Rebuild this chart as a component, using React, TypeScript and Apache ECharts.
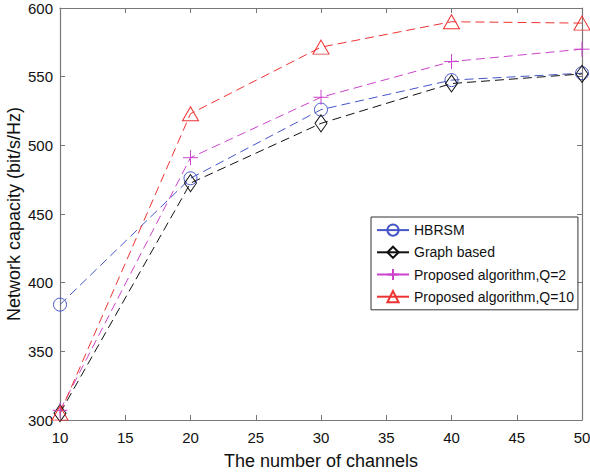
import React, { useEffect, useRef } from "react";
import * as echarts from "echarts";

const channels = [10, 20, 30, 40, 50];
const hbrsm = [384, 476, 526, 547.5, 552.5];
const graphBased = [305, 472.5, 516, 545, 552];
const proposedQ2 = [307, 491, 535, 561, 570];
const proposedQ10 = [305, 523, 571.5, 590, 589];
const seriesNames = ["HBRSM", "Graph based", "Proposed algorithm,Q=2", "Proposed algorithm,Q=10"];
const xTitle = "The number of channels";
const yTitle = "Network capacity (bit/s/Hz)";

const FONT = "'Liberation Sans', Arial, Helvetica, sans-serif";

export default function App() {
  const ref = useRef<HTMLDivElement>(null);
  useEffect(() => {
    if (!ref.current) return;
    const chart = echarts.init(ref.current, undefined, { renderer: "svg" });
    const mk = (name: string, data: number[], color: string, symbol: string, size: any) => ({
      name,
      type: "line",
      data: channels.map((c, i) => [c, data[i]]),
      symbol,
      symbolSize: size,
      showSymbol: true,
      lineStyle: { color, width: 1, type: [9, 5] },
      itemStyle: { color: "none", borderColor: color, borderWidth: 1 },
      emphasis: { disabled: true },
      z: 3,
    });
    const axisCommon = {
      axisLine: { show: true, onZero: false, lineStyle: { color: "#777", width: 1.2 } },
      axisTick: { show: true, inside: true, length: 5, lineStyle: { color: "#777" } },
      splitLine: { show: false },
    };
    chart.setOption({
      animation: false,
      backgroundColor: "#fff",
      textStyle: { fontFamily: FONT },
      grid: { left: 60, right: 8, top: 8, bottom: 56, containLabel: false, outerBoundsMode: "none" },
      legend: {
        show: true,
        orient: "vertical",
        left: 371,
        top: 217,
        itemWidth: 32,
        itemHeight: 14,
        itemGap: 6,
        padding: [5, 4, 5, 5],
        borderColor: "#333",
        borderWidth: 1,
        backgroundColor: "#fff",
        lineStyle: { type: "solid" },
        textStyle: { fontSize: 14, color: "#111", fontFamily: FONT },
        data: seriesNames,
      },
      xAxis: [
        {
          type: "value",
          min: 10,
          max: 50,
          interval: 5,
          name: xTitle,
          nameLocation: "middle",
          nameGap: 32,
          nameMoveOverlap: false,
          nameTextStyle: { fontSize: 18, color: "#111", fontFamily: FONT },
          axisLabel: { fontSize: 15, color: "#111", margin: 10, fontFamily: FONT },
          ...axisCommon,
        },
        {
          type: "value",
          position: "top",
          min: 10,
          max: 50,
          interval: 5,
          axisLabel: { show: false },
          ...axisCommon,
        },
      ],
      yAxis: [
        {
          type: "value",
          min: 300,
          max: 600,
          interval: 50,
          name: yTitle,
          nameLocation: "middle",
          nameGap: 37,
          nameMoveOverlap: false,
          nameTextStyle: { fontSize: 18, color: "#111", fontFamily: FONT },
          axisLabel: { fontSize: 15, color: "#111", margin: 7, fontFamily: FONT },
          ...axisCommon,
        },
        {
          type: "value",
          position: "right",
          min: 300,
          max: 600,
          interval: 50,
          axisLabel: { show: false },
          ...axisCommon,
        },
      ],
      series: [
        mk(seriesNames[0], hbrsm, "#4655c8", "circle", 13),
        mk(seriesNames[1], graphBased, "#111111", "diamond", [12, 17]),
        mk(seriesNames[2], proposedQ2, "#cc44cc", "path://M5,0 L5,10 M0,5 L10,5", 15),
        mk(seriesNames[3], proposedQ10, "#ee3333", "triangle", [16, 14]),
      ],
    });
    return () => chart.dispose();
  }, []);
  return (
    <div
      ref={ref}
      style={{ position: "fixed", left: 0, top: 0, width: 590, height: 476 }}
    />
  );
}
